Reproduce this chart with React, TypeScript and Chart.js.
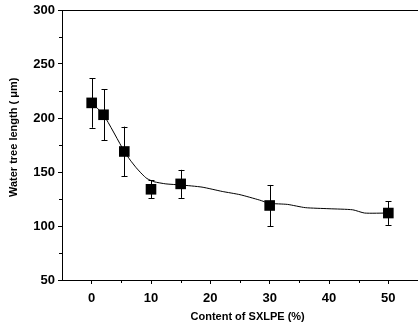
import React, { useEffect, useRef } from 'react';
import { Chart, registerables } from 'chart.js';
Chart.register(...registerables);

// Measured points (content of SXLPE %, water tree length µm, error)
const contentPct = [0, 2, 5.5, 10, 15, 30, 50];
const treeLength = [214, 203, 169, 134, 139, 119, 112];
const errorBar = [23, 23.5, 23, 8.5, 13, 19, 11];

// Fitted curve
const fitX = [0, 2, 5.5, 6.5, 7.5, 8.5, 9.3, 10.5, 12.5, 15, 18.6, 22, 25, 28.3, 30, 33, 36, 40, 44, 46, 50];
const fitY = [214, 203, 169, 161, 154, 148, 144, 141, 139, 138, 136, 132, 129, 124, 121, 120, 117, 116, 115, 112, 112];

const xTicks = [0, 10, 20, 30, 40, 50];
const xMinorTicks = [5, 15, 25, 35, 45];
const yTicks = [50, 100, 150, 200, 250, 300];
const yMinorTicks = [75, 125, 175, 225, 275];

const FONT = "'Liberation Sans', Arial, sans-serif";

const decorPlugin = {
  id: 'decor',
  beforeDatasetsDraw(chart: any) {
    const ctx = chart.ctx;
    const xs = chart.scales.x;
    const ys = chart.scales.y;
    ctx.save();
    ctx.strokeStyle = '#000';
    ctx.lineWidth = 1;
    contentPct.forEach((cx, i) => {
      const px = Math.round(xs.getPixelForValue(cx)) + 0.5;
      const top = ys.getPixelForValue(treeLength[i] + errorBar[i]);
      const bot = ys.getPixelForValue(treeLength[i] - errorBar[i]);
      ctx.beginPath();
      ctx.moveTo(px, top);
      ctx.lineTo(px, bot);
      ctx.moveTo(px - 3, Math.round(top) + 0.5);
      ctx.lineTo(px + 3, Math.round(top) + 0.5);
      ctx.moveTo(px - 3, Math.round(bot) + 0.5);
      ctx.lineTo(px + 3, Math.round(bot) + 0.5);
      ctx.stroke();
    });
    ctx.restore();
  },
  afterDraw(chart: any) {
    const ctx = chart.ctx;
    const xs = chart.scales.x;
    const ys = chart.scales.y;
    const area = chart.chartArea;
    ctx.save();
    ctx.strokeStyle = '#000';
    ctx.lineWidth = 1;
    ctx.beginPath();
    ctx.moveTo(area.left, Math.round(area.top) + 0.5);
    ctx.lineTo(area.right, Math.round(area.top) + 0.5);
    xMinorTicks.forEach((v) => {
      const px = Math.round(xs.getPixelForValue(v)) + 0.5;
      ctx.moveTo(px, area.bottom);
      ctx.lineTo(px, area.bottom + 3);
    });
    yMinorTicks.forEach((v) => {
      const py = Math.round(ys.getPixelForValue(v)) + 0.5;
      ctx.moveTo(area.left, py);
      ctx.lineTo(area.left - 3, py);
    });
    ctx.stroke();
    ctx.restore();
  },
};

export default function App() {
  const ref = useRef<HTMLCanvasElement | null>(null);
  useEffect(() => {
    document.body.style.margin = '0';
    if (!ref.current) return;
    const chart = new Chart(ref.current, {
      type: 'line',
      data: {
        datasets: [
          {
            data: fitX.map((x, i) => ({ x, y: fitY[i] })),
            borderColor: '#000',
            borderWidth: 1,
            pointRadius: 0,
            tension: 0.2,
            fill: false,
          },
          {
            data: contentPct.map((x, i) => ({ x, y: treeLength[i] })),
            showLine: false,
            pointStyle: 'rect',
            pointRadius: 7.5,
            pointBackgroundColor: '#000',
            pointBorderColor: '#000',
            pointBorderWidth: 0,
          },
        ],
      },
      options: {
        responsive: false,
        animation: false,
        layout: { autoPadding: false, padding: { top: 10, right: 0, left: 0, bottom: 0 } },
        plugins: { legend: { display: false }, tooltip: { enabled: false } },
        scales: {
          x: {
            type: 'linear',
            min: -5,
            max: 55,
            afterBuildTicks: (s: any) => {
              s.ticks = xTicks.map((v) => ({ value: v }));
            },
            afterFit: (s: any) => {
              s.height = 51;
              s.paddingLeft = 0;
              s.paddingRight = 0;
            },
            grid: { drawOnChartArea: false, drawTicks: true, tickLength: 4, color: '#000', tickColor: '#000' },
            border: { display: true, color: '#000', width: 1 },
            ticks: { color: '#000', font: { family: FONT, size: 13, weight: 'bold' }, padding: 7, maxRotation: 0, autoSkip: false },
            title: {
              display: true,
              text: '     Content of SXLPE (%)',
              color: '#000',
              font: { family: FONT, size: 11, weight: 'bold' },
              padding: { top: 0, bottom: 7 },
            },
          },
          y: {
            type: 'linear',
            min: 50,
            max: 300,
            afterBuildTicks: (s: any) => {
              s.ticks = yTicks.map((v) => ({ value: v }));
            },
            afterFit: (s: any) => {
              s.width = 62;
              s.paddingTop = 0;
              s.paddingBottom = 0;
            },
            grid: { drawOnChartArea: false, drawTicks: true, tickLength: 4, color: '#000', tickColor: '#000' },
            border: { display: true, color: '#000', width: 1 },
            ticks: { color: '#000', font: { family: FONT, size: 13, weight: 'bold' }, padding: 3, autoSkip: false },
            title: {
              display: true,
              text: '     Water tree length ( μm)',
              color: '#000',
              font: { family: FONT, size: 11, weight: 'bold' },
              padding: { top: 7, bottom: 0 },
            },
          },
        },
      },
      plugins: [decorPlugin],
    } as any);
    return () => chart.destroy();
  }, []);
  return <canvas ref={ref} width={418} height={331} style={{ display: 'block' }} />;
}
